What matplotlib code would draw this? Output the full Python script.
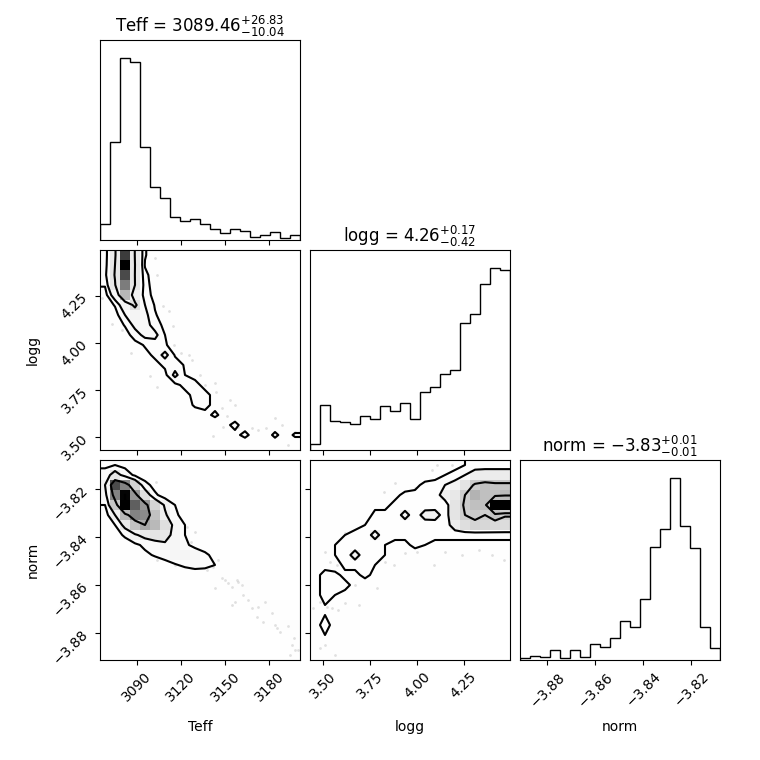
import numpy as np
import matplotlib
matplotlib.use("Agg")
import matplotlib.pyplot as plt
from matplotlib.colors import LinearSegmentedColormap
from matplotlib.ticker import MaxNLocator, ScalarFormatter

# ---------------- data ----------------
labels = ["Teff", "logg", "norm"]
ranges = [(3065.1, 3200.8), (3.429, 4.497), (-3.8914, -3.8080)]
medians = ["3089.46", "4.26", "-3.83"]
err_lo = ["10.04", "0.42", "0.01"]
err_hi = ["26.83", "0.17", "0.01"]

# 1D histograms (20 bins each, relative counts)
teff_hist = [47, 293, 545, 533, 280, 158, 125, 68, 56, 62, 47, 32, 20, 32, 26, 8, 14, 24, 5, 15]
logg_hist = [17, 135, 87, 84, 78, 102, 93, 131, 116, 141, 94, 173, 189, 227, 240, 382, 407, 498, 545, 540]
norm_hist = [5, 11, 8, 29, 5, 29, 8, 47, 38, 65, 116, 99, 184, 340, 392, 545, 403, 336, 99, 35]

# 2D histograms: rows listed from top (highest y bin) to bottom,
# each row = (first x bin, counts...)
teff_logg_rows = [
    (0, [14, 45, 140, 48, 10, 2]),
    (0, [14, 50, 160, 50, 8, 2]),
    (0, [16, 52, 135, 49, 12, 3]),
    (0, [10, 48, 115, 50, 14, 3]),
    (0, [4, 30, 85, 34, 16, 4, 2, 1]),
    (0, [2, 10, 32, 56, 20, 8, 3, 1]),
    (0, [1, 4, 20, 32, 24, 10, 4, 2, 1]),
    (0, [0, 2, 10, 24, 26, 14, 6, 2, 1]),
    (0, [0, 1, 4, 14, 24, 24, 9, 4, 2, 1]),
    (1, [1, 2, 5, 10, 14, 10, 5, 3, 1]),
    (2, [1, 2, 6, 11, 25, 8, 4, 2, 1]),
    (3, [1, 3, 6, 11, 14, 8, 4, 2, 1]),
    (4, [1, 3, 6, 24, 9, 6, 3, 1]),
    (5, [1, 3, 6, 12, 12, 6, 3, 1]),
    (6, [1, 3, 6, 12, 12, 6, 3, 1]),
    (7, [1, 3, 11, 12, 6, 3, 1, 1]),
    (8, [1, 2, 6, 11, 5, 3, 2, 1, 1]),
    (10, [1, 2, 6, 12, 4, 3, 2, 2, 2, 1]),
    (12, [2, 6, 12, 4, 2, 12, 3, 11]),
    (13, [1, 1, 1, 0, 1, 1, 1]),
]
teff_norm_rows = [
    (0, [6, 8, 5, 2]),
    (0, [12, 28, 14, 6, 2]),
    (0, [20, 72, 60, 35, 12, 4]),
    (0, [14, 60, 85, 55, 30, 10, 3]),
    (0, [8, 40, 86, 68, 55, 35, 18, 8, 3]),
    (0, [3, 20, 45, 60, 58, 42, 22, 10, 4, 1]),
    (0, [2, 8, 25, 42, 50, 45, 30, 16, 8, 3, 1]),
    (0, [0, 3, 10, 18, 25, 28, 25, 16, 8, 4, 2]),
    (2, [2, 6, 10, 14, 18, 16, 10, 5, 3]),
    (2, [1, 3, 6, 9, 12, 16, 17, 15, 10, 5, 2]),
    (4, [1, 2, 4, 7, 10, 12, 10, 8, 5, 1]),
    (8, [1, 2, 4, 6, 6, 4, 2, 2]),
    (11, [3, 5, 7, 8, 5, 4, 2]),
    (13, [1, 2, 2, 1]),
    (14, [2, 4, 6, 5, 3, 1]),
    (16, [1, 2, 1]),
    (16, [2, 5, 6, 8]),
    (18, [2, 4]),
    (18, [3, 5]),
    (19, [4]),
]
logg_norm_rows = [
    (0, [0, 0, 0, 0, 0, 0, 0, 0, 0, 0, 1, 1, 2, 2, 3, 4, 5, 5, 5, 5]),
    (0, [0, 0, 0, 0, 0, 0, 0, 1, 1, 1, 2, 2, 3, 4, 5, 12, 20, 22, 22, 22]),
    (0, [0, 0, 0, 0, 0, 0, 0, 1, 1, 2, 3, 5, 5, 12, 18, 26, 37, 40, 38, 38]),
    (0, [0, 0, 0, 0, 0, 1, 1, 2, 3, 5, 5, 5, 5, 20, 24, 35, 44, 40, 40, 42]),
    (0, [0, 0, 0, 1, 1, 2, 3, 3, 5, 5, 5, 5, 5, 5, 26, 37, 40, 40, 81, 81]),
    (0, [0, 1, 1, 2, 3, 2, 5, 5, 5, 17, 5, 18, 19, 5, 26, 35, 37, 35, 40, 36]),
    (0, [1, 1, 2, 3, 3, 4, 5, 5, 5, 5, 5, 5, 5, 5, 20, 29, 33, 32, 31, 30]),
    (0, [1, 2, 3, 4, 5, 5, 17, 5, 5, 5, 5, 5, 5, 5, 5, 5, 5, 5, 5, 5]),
    (0, [2, 3, 4, 5, 5, 5, 5, 4, 3, 3, 5, 4, 3, 3, 3, 3, 3, 3, 3, 3]),
    (0, [2, 3, 4, 5, 18, 5, 5, 4, 3, 2, 2, 2, 1, 2, 2, 2, 2, 2, 2, 2]),
    (0, [2, 3, 2, 5, 5, 5, 4, 3, 2, 1, 1, 1, 1, 1, 2, 2, 2, 0, 0, 0]),
    (0, [3, 5, 5, 3, 3, 5, 3, 2, 1, 1, 1, 1, 1, 1, 1, 1, 0, 0, 0, 0]),
    (0, [3, 5, 5, 5, 3, 2, 1, 1, 1, 1, 1, 1, 0, 0, 0, 0, 0, 0, 0, 0]),
    (0, [3, 5, 4, 3, 2, 1, 0, 0, 0, 0, 0, 0, 0, 0, 0, 0, 0, 0, 0, 0]),
    (0, [3, 4, 3, 2, 1, 1, 0, 0, 0, 0, 0, 0, 0, 0, 0, 0, 0, 0, 0, 0]),
    (0, [3, 4, 3, 2, 1, 1, 0, 0, 0, 0, 0, 0, 0, 0, 0, 0, 0, 0, 0, 0]),
    (0, [3, 5, 3, 2, 1, 0, 0, 0, 0, 0, 0, 0, 0, 0, 0, 0, 0, 0, 0, 0]),
    (0, [3, 4, 3, 1, 0, 0, 0, 0, 0, 0, 0, 0, 0, 0, 0, 0, 0, 0, 0, 0]),
    (0, [3, 3, 2, 1, 1, 0, 0, 0, 0, 0, 0, 0, 0, 0, 0, 0, 0, 0, 0, 0]),
    (0, [2, 2, 2, 1, 1, 0, 0, 0, 0, 0, 0, 0, 0, 0, 0, 0, 0, 0, 0, 0]),
]

# scattered samples outside the contours
tl_teff = [3102.4, 3104.0, 3108.1, 3111.9, 3114.4, 3115.5, 3120.1, 3073.5, 3079.8, 3086.1,
           3106.9, 3125.5, 3133.0, 3136.3, 3143.1, 3143.6, 3147.7, 3153.3, 3156.7, 3151.1,
           3142.0, 3148.8, 3159.0, 3168.0, 3172.1, 3177.5, 3183.8, 3188.4, 3192.4, 3197.4,
           3066.2, 3099.0, 3103.5, 3121.2, 3127.3]
tl_logg = [4.455, 4.363, 4.197, 4.170, 4.089, 3.991, 3.947, 4.102, 4.072, 3.947,
           3.952, 3.938, 3.827, 3.777, 3.786, 3.738, 3.652, 3.697, 3.670, 3.613,
           3.506, 3.554, 3.554, 3.549, 3.536, 3.545, 3.599, 3.563, 3.456, 3.527,
           4.241, 3.822, 3.768, 3.831, 3.911]
tn_teff = [3103.1, 3123.9, 3129.6, 3126.9, 3101.3, 3103.6, 3116.0, 3121.6, 3127.3, 3137.5,
           3142.0, 3145.4, 3147.7, 3149.9, 3152.2, 3154.4, 3157.8, 3159.0, 3161.2, 3143.1,
           3154.4, 3156.7, 3162.4, 3165.8, 3168.0, 3172.5, 3177.1, 3181.6, 3171.4, 3175.9,
           3183.9, 3185.0, 3187.2, 3192.9, 3197.0, 3195.2, 3197.4, 3194.0, 3199.7]
tn_norm = [-3.8170, -3.8358, -3.8382, -3.8421, -3.8462, -3.8497, -3.8518, -3.8490, -3.8532, -3.8539,
           -3.8525, -3.8497, -3.8573, -3.8580, -3.8594, -3.8608, -3.8580, -3.8587, -3.8601, -3.8615,
           -3.8685, -3.8671, -3.8643, -3.8664, -3.8699, -3.8692, -3.8671, -3.8719, -3.8733, -3.8754,
           -3.8768, -3.8782, -3.8796, -3.8771, -3.8821, -3.8851, -3.8872, -3.8893, -3.8872]
ln_logg = [3.884, 3.822, 4.081, 4.107, 4.188, 3.991, 3.616, 3.643, 3.599, 3.509,
           3.536, 3.572, 3.634, 3.670, 3.759, 3.831, 3.875, 3.938, 4.000, 4.089,
           4.152, 4.241, 4.330, 4.402, 4.464, 3.786, 3.483, 3.518, 3.545, 3.581,
           3.616, 3.688, 3.447, 3.509, 3.483, 3.563, 3.670]
ln_norm = [-3.8177, -3.8212, -3.8122, -3.8101, -3.8101, -3.8198, -3.8386, -3.8400, -3.8448, -3.8462,
           -3.8504, -3.8518, -3.8532, -3.8532, -3.8462, -3.8504, -3.8518, -3.8469, -3.8462, -3.8518,
           -3.8462, -3.8476, -3.8455, -3.8476, -3.8497, -3.8615, -3.8671, -3.8692, -3.8699, -3.8706,
           -3.8678, -3.8685, -3.8699, -3.8851, -3.8865, -3.8893, -3.8601]

hists = [teff_hist, logg_hist, norm_hist]
pairs = {
    (1, 0): (teff_logg_rows, tl_teff, tl_logg),
    (2, 0): (teff_norm_rows, tn_teff, tn_norm),
    (2, 1): (logg_norm_rows, ln_logg, ln_norm),
}

# ---------------- drawing ----------------
NB = 20


def build_grid(rows):
    G = np.zeros((NB, NB))
    for r, (c0, vals) in enumerate(rows):
        G[r, c0:c0 + len(vals)] = vals
    return G[::-1].T  # H[x_bin, y_bin]


white_cmap = LinearSegmentedColormap.from_list("white_cmap", [(1, 1, 1), (1, 1, 1)], N=2)
density_cmap = LinearSegmentedColormap.from_list("density_cmap", [(0, 0, 0, 1), (1, 1, 1, 0)])


def hist2d(ax, rows, xr, yr, px, py):
    H = build_grid(rows)
    X = np.linspace(xr[0], xr[1], NB + 1)
    Y = np.linspace(yr[0], yr[1], NB + 1)
    levels = 1.0 - np.exp(-0.5 * np.arange(0.5, 2.1, 0.5) ** 2)
    Hflat = H.flatten()
    Hflat = Hflat[np.argsort(Hflat)[::-1]]
    sm = np.cumsum(Hflat)
    sm /= sm[-1]
    V = np.empty(len(levels))
    for i, v0 in enumerate(levels):
        sel = Hflat[sm <= v0]
        V[i] = sel[-1] if len(sel) else Hflat[0]
    V.sort()
    m = np.diff(V) == 0
    while np.any(m):
        V[np.where(m)[0][0]] *= 1.0 - 1e-4
        m = np.diff(V) == 0
    V.sort()
    X1, Y1 = 0.5 * (X[1:] + X[:-1]), 0.5 * (Y[1:] + Y[:-1])
    H2 = H.min() + np.zeros((NB + 4, NB + 4))
    H2[2:-2, 2:-2] = H
    H2[2:-2, 1] = H[:, 0]
    H2[2:-2, -2] = H[:, -1]
    H2[1, 2:-2] = H[0]
    H2[-2, 2:-2] = H[-1]
    H2[1, 1] = H[0, 0]
    H2[1, -2] = H[0, -1]
    H2[-2, 1] = H[-1, 0]
    H2[-2, -2] = H[-1, -1]
    X2 = np.concatenate([X1[0] + np.array([-2, -1]) * np.diff(X1[:2]), X1,
                         X1[-1] + np.array([1, 2]) * np.diff(X1[-2:])])
    Y2 = np.concatenate([Y1[0] + np.array([-2, -1]) * np.diff(Y1[:2]), Y1,
                         Y1[-1] + np.array([1, 2]) * np.diff(Y1[-2:])])
    ax.plot(px, py, "o", ms=2, alpha=0.12, color="k", zorder=-1, mec="none")
    ax.contourf(X2, Y2, H2.T, [V.min(), H.max()], cmap=white_cmap, antialiased=False)
    ax.pcolor(X, Y, H.max() - H.T, cmap=density_cmap)
    ax.contour(X2, Y2, H2.T, V, colors="k", linewidths=1.5)
    ax.set_xlim(xr)
    ax.set_ylim(yr)


fig, axes = plt.subplots(3, 3, figsize=(7.6, 7.6), dpi=100)
fig.subplots_adjust(left=1.0 / 7.6, bottom=1.0 / 7.6, right=7.2 / 7.6, top=7.2 / 7.6,
                    wspace=0.05, hspace=0.05)

K = 3
for i in range(K):
    for j in range(K):
        ax = axes[i, j]
        if j > i:
            ax.set_frame_on(False)
            ax.set_xticks([])
            ax.set_yticks([])
            continue
        if i == j:
            edges = np.linspace(ranges[i][0], ranges[i][1], NB + 1)
            ax.stairs(hists[i], edges, color="k", linewidth=1.0)
            ax.set_xlim(ranges[i])
            ax.set_ylim(0, 1.1 * max(hists[i]))
            ax.set_yticks([])
            ax.set_title(f"{labels[i]} = ${medians[i]}_{{-{err_lo[i]}}}^{{+{err_hi[i]}}}$")
        else:
            rows, px, py = pairs[(i, j)]
            hist2d(ax, rows, ranges[j], ranges[i], px, py)
            ax.yaxis.set_major_locator(MaxNLocator(5, prune="lower"))
            ax.yaxis.set_major_formatter(ScalarFormatter(useMathText=False))
            if j > 0:
                ax.set_yticklabels([])
            else:
                for lab in ax.get_yticklabels():
                    lab.set_rotation(45)
                ax.set_ylabel(labels[i])
                ax.yaxis.set_label_coords(-0.3, 0.5)
        ax.xaxis.set_major_locator(MaxNLocator(5, prune="lower"))
        ax.xaxis.set_major_formatter(ScalarFormatter(useMathText=False))
        if i < K - 1:
            ax.set_xticklabels([])
        else:
            for lab in ax.get_xticklabels():
                lab.set_rotation(45)
            ax.set_xlabel(labels[j])
            ax.xaxis.set_label_coords(0.5, -0.3)

fig.savefig("out.png", dpi=100)
